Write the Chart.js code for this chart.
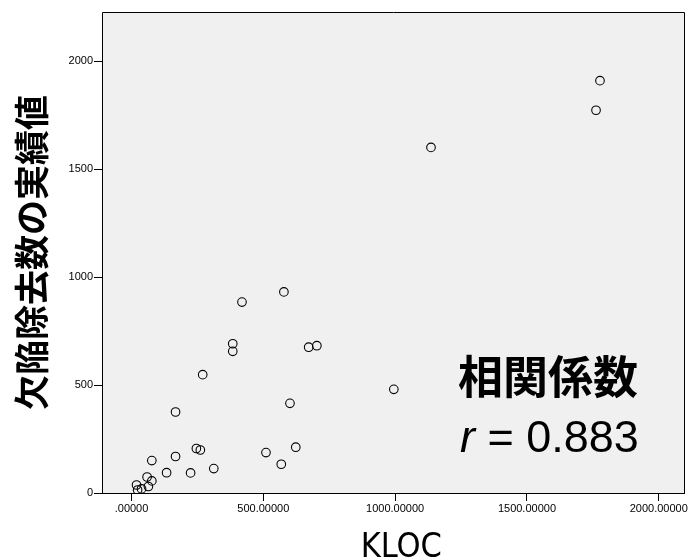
<!DOCTYPE html>
<html>
<head>
<meta charset="utf-8">
<script src="https://cdn.jsdelivr.net/npm/chart.js@4/dist/chart.umd.min.js"></script>
<style>
html,body{margin:0;padding:0;background:#fff;}
#wrap{width:690px;height:560px;}
</style>
</head>
<body>
<div id="wrap"><canvas id="c" width="690" height="560"></canvas></div>
<script>
// Data
const kloc    = [1777,1762,1136,995,419,578,384,384,672,703,270,167,601,77,167,246,261,133,224,312,510,568,623,59,77,64,19,38,23];
const defects = [1909,1772,1600,480,884,931,691,656,675,682,548,375,415,150,169,206,199,94,93,113,187,133,212,74,56,30,37,19,14];
const xTicks  = [0,500,1000,1500,2000];
const yTicks  = [0,500,1000,1500,2000];
const xTitle  = 'KLOC';
const yTitle  = '欠陥除去数の実績値';
const corrLabel = '相関係数';
const corrSymbol = 'r';
const corrValue = '0.883';

const points = kloc.map((x,i)=>({x:x,y:defects[i]}));

const frame = {
  id:'frame',
  beforeDatasetsDraw(chart){
    const {ctx, chartArea:a} = chart;
    ctx.save();
    ctx.fillStyle = '#f0f0f0';
    ctx.fillRect(a.left, a.top, a.right-a.left, a.bottom-a.top);
    ctx.restore();
  },
  afterDraw(chart){
    const {ctx, chartArea:a} = chart;
    ctx.save();
    ctx.strokeStyle = '#000';
    ctx.lineWidth = 1;
    ctx.beginPath();
    ctx.rect(Math.round(a.left)+0.5, Math.round(a.top)+0.5, Math.round(a.right-a.left)-1, Math.round(a.bottom-a.top));
    ctx.stroke();
    // x-axis title
    ctx.fillStyle = '#000';
    ctx.textAlign = 'center';
    ctx.textBaseline = 'alphabetic';
    ctx.font = '34px "DejaVu Sans Condensed", "Open Sans", "Noto Sans", sans-serif';
    ctx.fillText(xTitle, (a.left + a.right)/2 + 8, a.bottom + 64);
    // annotation
    const x0 = a.left + 356;
    ctx.textAlign = 'left';
    ctx.font = 'bold 45px "Noto Sans CJK JP"';
    ctx.fillText(corrLabel, x0, a.top + 382);
    ctx.font = 'italic 45px "Liberation Sans"';
    ctx.fillText(corrSymbol, x0 + 2, a.top + 440);
    const w = ctx.measureText(corrSymbol).width;
    ctx.font = '45px "Liberation Sans"';
    ctx.fillText(' = ' + corrValue, x0 + 2 + w, a.top + 440);
    ctx.restore();
  }
};

const fmtX = v => v === 0 ? '.00000' : v.toFixed(5);

new Chart(document.getElementById('c'), {
  type:'scatter',
  data:{datasets:[{
    data: points,
    pointStyle:'circle',
    pointRadius:4.3,
    pointHoverRadius:4.3,
    backgroundColor:'rgba(0,0,0,0)',
    borderColor:'#000',
    borderWidth:1.1
  }]},
  options:{
    responsive:false,
    animation:false,
    events:[],
    layout:{padding:{top:12,right:3,left:0,bottom:0}},
    plugins:{legend:{display:false},tooltip:{enabled:false}},
    scales:{
      x:{
        type:'linear', position:'bottom', min:-112, max:2098,
        afterBuildTicks(s){ s.ticks = xTicks.map(v=>({value:v})); },
        ticks:{callback:v=>fmtX(v), font:{family:'Liberation Sans', size:11}, color:'#000', padding:1, maxRotation:0, autoSkip:false},
        grid:{display:true, drawOnChartArea:false, drawTicks:true, tickLength:8, color:'#000', lineWidth:1},
        border:{display:true, color:'#000', width:1},
        title:{display:false},
        afterFit(s){ s.height = 67; s.paddingLeft = 0; s.paddingRight = 0; }
      },
      y:{
        type:'linear', position:'left', min:0, max:2227,
        afterBuildTicks(s){ s.ticks = yTicks.map(v=>({value:v})); },
        ticks:{callback:v=>String(v), font:{family:'Liberation Sans', size:11}, color:'#000', padding:1, autoSkip:false},
        grid:{display:true, drawOnChartArea:false, drawTicks:true, tickLength:8, color:'#000', lineWidth:1},
        border:{display:true, color:'#000', width:1},
        title:{display:true, text:yTitle, color:'#000', font:{family:'Noto Sans CJK JP', size:35, weight:'bold', lineHeight:1}, padding:{top:14,bottom:0}},
        afterFit(s){ s.width = 102; s.paddingTop = 0; s.paddingBottom = 0; }
      }
    }
  },
  plugins:[frame]
});
</script>
</body>
</html>
